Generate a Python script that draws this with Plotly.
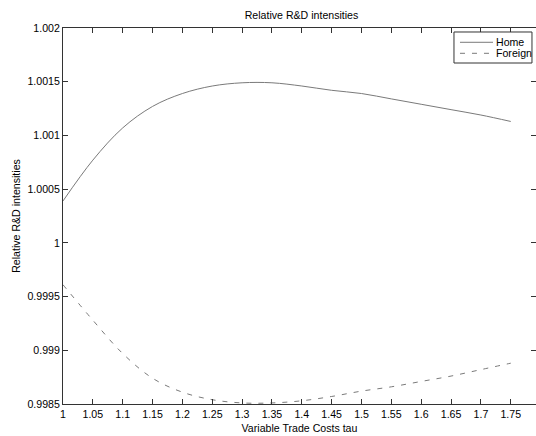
import plotly.graph_objects as go

# Variable trade costs (tau) and relative R&D intensities
tau = [1.00, 1.05, 1.10, 1.15, 1.20, 1.25, 1.30, 1.35,
       1.40, 1.45, 1.50, 1.55, 1.60, 1.65, 1.70, 1.75]
home = [1.00039, 1.00077, 1.00107, 1.00127, 1.00139, 1.00146, 1.00149, 1.00149,
        1.00146, 1.00142, 1.00139, 1.00134, 1.00129, 1.00124, 1.00119, 1.00113]
foreign = [0.99961, 0.99928, 0.99897, 0.99874, 0.99861, 0.99854, 0.99851, 0.99851,
           0.99853, 0.99857, 0.99862, 0.99866, 0.99871, 0.99876, 0.99882, 0.99888]
series_names = ["Home", "Foreign"]

x_ticks = [1.00, 1.05, 1.10, 1.15, 1.20, 1.25, 1.30, 1.35,
           1.40, 1.45, 1.50, 1.55, 1.60, 1.65, 1.70, 1.75]
x_ticktext = ["1", "1.05", "1.1", "1.15", "1.2", "1.25", "1.3", "1.35",
              "1.4", "1.45", "1.5", "1.55", "1.6", "1.65", "1.7", "1.75"]
y_ticks = [0.9985, 0.999, 0.9995, 1.0, 1.0005, 1.001, 1.0015, 1.002]
y_ticktext = ["0.9985", "0.999", "0.9995", "1", "1.0005", "1.001", "1.0015", "1.002"]

FONT = "Liberation Sans, Arial, Helvetica, sans-serif"
FSIZE = 10.6
LINE = "#7a7a7a"
AXIS = "#333333"
DASH = "5px,7px"

fig = go.Figure()
fig.add_trace(go.Scatter(x=tau, y=home, mode="lines", name=series_names[0],
                         showlegend=False,
                         line=dict(color=LINE, width=1, shape="spline")))
fig.add_trace(go.Scatter(x=tau, y=foreign, mode="lines", name=series_names[1],
                         showlegend=False,
                         line=dict(color=LINE, width=1, shape="spline", dash=DASH)))

text_font = dict(family=FONT, size=FSIZE, color="#000000")
axis_common = dict(showline=True, linecolor=AXIS, linewidth=1, mirror="ticks",
                   ticks="inside", ticklen=5, tickcolor=AXIS, tickwidth=1,
                   showgrid=False, zeroline=False, tickfont=text_font)

fig.update_xaxes(range=[1.0, 1.7923], tickvals=x_ticks, ticktext=x_ticktext,
                 title=dict(text="Variable Trade Costs tau", standoff=5, font=text_font),
                 **axis_common)
fig.update_yaxes(range=[0.9985, 1.002], tickvals=y_ticks, ticktext=y_ticktext,
                 title=dict(text="Relative R&D intensities", standoff=4, font=text_font),
                 **axis_common)

# Boxed legend in the upper-right corner of the axes
box_x0, box_x1, box_y0, box_y1 = 0.8266, 0.9915, 0.9069, 0.9894
key_x0, key_x1, text_x = 0.8393, 0.9091, 0.9154
row_y = [0.962, 0.9327]
row_dash = ["solid", DASH]
shapes = [dict(type="rect", xref="paper", yref="paper",
               x0=box_x0, x1=box_x1, y0=box_y0, y1=box_y1,
               line=dict(color=AXIS, width=1), fillcolor="white", layer="above")]
annotations = []
for name, yy, dash in zip(series_names, row_y, row_dash):
    shapes.append(dict(type="line", xref="paper", yref="paper",
                       x0=key_x0, x1=key_x1, y0=yy, y1=yy,
                       line=dict(color=LINE, width=1, dash=dash), layer="above"))
    annotations.append(dict(text=name, xref="paper", yref="paper",
                            x=text_x, y=yy, xanchor="left", yanchor="middle",
                            showarrow=False, xshift=-2, font=text_font))

fig.update_layout(
    width=536, height=436,
    margin=dict(l=63, r=0, t=28, b=32),
    paper_bgcolor="white", plot_bgcolor="white",
    title=dict(text="Relative R&D intensities", x=0.5625, xref="container",
               xanchor="center", y=1 - 15 / 436, yanchor="middle", font=text_font),
    shapes=shapes,
    annotations=annotations,
    showlegend=False,
)

fig.write_html("out.html")
